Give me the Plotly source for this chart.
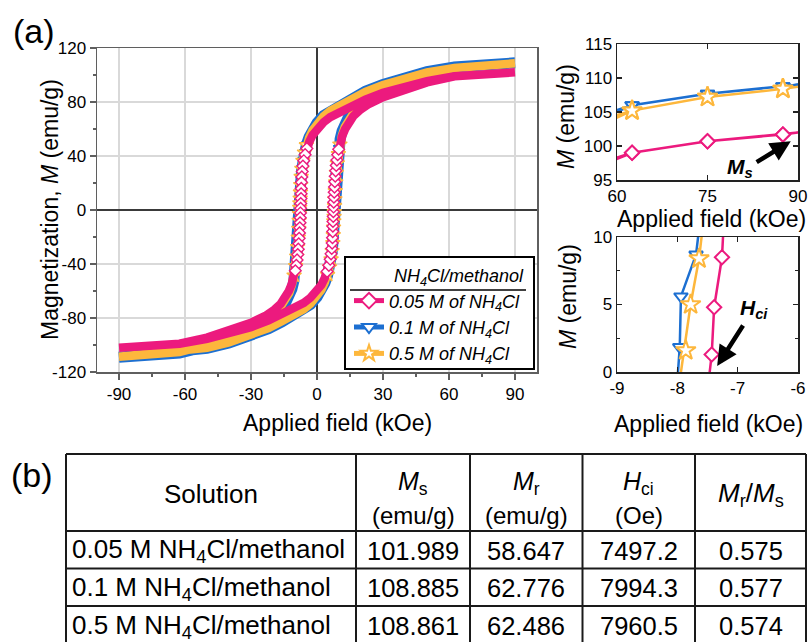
import plotly.graph_objects as go

# ---------------------------------------------------------------- data
# 0.05 M NH4Cl (pink) : descending branch (+90 -> -90 kOe)
pink_desc_H = [90, 87.5, 75, 62.5, 50, 40, 30, 22, 16, 10, 6, 3, 0, -2, -3.5, -4.6, -5.4, -6.0, -6.4, -6.7,
               -6.9, -7.05, -7.15, -7.22, -7.26, -7.39, -7.43, -7.52, -7.6, -7.7, -7.82, -7.95, -8.1, -8.28,
               -8.5, -8.75, -9.05, -9.4, -9.85, -10.5, -11.5, -12.8, -14.5, -16.5, -19.5, -23, -30, -40, -50,
               -62.5, -75, -87.5, -90]
pink_desc_M = [102.0, 101.7, 100.7, 99.0, 95.5, 91.8, 86.8, 81.8, 77.0, 72.5, 68.8, 65.0, 60.0, 55.5, 50.5,
               45.5, 41.0, 36.5, 32.5, 28.5, 24.5, 20.5, 16.0, 12.0, 8.5, 4.8, 1.3, -2.2, -5.8, -9.5, -13.2,
               -17.0, -21.0, -25.0, -29.0, -33.0, -37.0, -41.0, -45.0, -50.0, -55.0, -60.0, -65.0, -69.5,
               -74.0, -78.0, -83.5, -89.5, -94.5, -99.0, -100.7, -101.7, -102.0]
# 0.05 M NH4Cl (pink) : ascending branch (-90 -> +90 kOe)
pink_asc_H = [-90, -87.5, -75, -62.5, -50, -40, -30, -22, -16, -10, -6, -3, 0, 2, 3.5, 4.6, 5.4, 6.0, 6.4, 6.7,
              6.9, 7.05, 7.15, 7.22, 7.26, 7.39, 7.43, 7.52, 7.6, 7.7, 7.82, 7.95, 8.1, 8.28, 8.5, 8.75, 9.05,
              9.4, 9.85, 10.5, 11.5, 12.8, 14.5, 16.5, 19.5, 23, 30, 40, 50, 62.5, 75, 87.5, 90]
pink_asc_M = [-102.0, -101.7, -100.7, -99.0, -95.5, -91.8, -86.8, -81.8, -77.0, -72.5, -68.8, -65.0, -60.0,
              -55.5, -50.5, -45.5, -41.0, -36.5, -32.5, -28.5, -24.5, -20.5, -16.0, -12.0, -8.5, -4.8, -1.3,
              2.2, 5.8, 9.5, 13.2, 17.0, 21.0, 25.0, 29.0, 33.0, 37.0, 41.0, 45.0, 50.0, 55.0, 60.0, 65.0,
              69.5, 74.0, 78.0, 83.5, 89.5, 94.5, 99.0, 100.7, 101.7, 102.0]

# 0.1 M NH4Cl (blue)
blue_desc_H = [90, 87.5, 75, 62.5, 50, 40, 30, 22, 16, 10, 6, 3, 0, -2, -3.6, -4.8, -5.7, -6.4, -6.9, -7.2,
               -7.42, -7.55, -7.69, -7.94, -7.96, -8.06, -8.2, -8.38, -8.6, -8.9, -9.3, -9.8, -10.5, -11.4,
               -12.7, -14.6, -17, -20.5, -25, -30, -40, -50, -62.5, -75, -87.5, -90]
blue_desc_M = [109.0, 108.8, 107.7, 106.0, 102.5, 98.5, 93.0, 88.0, 83.0, 78.0, 74.0, 70.0, 64.5, 59.5, 54.0,
               48.5, 43.0, 37.0, 31.0, 25.0, 19.5, 14.0, 8.7, 5.6, 1.85, -4.5, -11.5, -18.5, -25.5, -32.5,
               -39.5, -46.0, -52.5, -58.5, -64.5, -70.0, -75.0, -79.5, -84.0, -88.5, -95.5, -101.0, -106.0,
               -107.7, -108.8, -109.0]
blue_asc_H = [-90, -87.5, -75, -62.5, -50, -40, -30, -22, -16, -10, -6, -3, 0, 2, 3.6, 4.8, 5.7, 6.4, 6.9, 7.2,
              7.42, 7.55, 7.69, 7.94, 7.96, 8.06, 8.2, 8.38, 8.6, 8.9, 9.3, 9.8, 10.5, 11.4, 12.7, 14.6, 17,
              20.5, 25, 30, 40, 50, 62.5, 75, 87.5, 90]
blue_asc_M = [-109.0, -108.8, -107.7, -106.0, -102.5, -98.5, -93.0, -88.0, -83.0, -78.0, -74.0, -70.0, -64.5,
              -59.5, -54.0, -48.5, -43.0, -37.0, -31.0, -25.0, -19.5, -14.0, -8.7, -5.6, -1.85, 4.5, 11.5,
              18.5, 25.5, 32.5, 39.5, 46.0, 52.5, 58.5, 64.5, 70.0, 75.0, 79.5, 84.0, 88.5, 95.5, 101.0,
              106.0, 107.7, 108.8, 109.0]

# 0.5 M NH4Cl (yellow)
yellow_desc_H = [90, 87.5, 75, 62.5, 50, 40, 30, 22, 16, 10, 6, 3, 0, -2, -3.6, -4.8, -5.7, -6.4, -6.9, -7.2,
                 -7.4, -7.52, -7.64, -7.78, -7.86, -7.98, -8.12, -8.3, -8.52, -8.82, -9.22, -9.72, -10.4,
                 -11.3, -12.6, -14.5, -17, -20.5, -25, -30, -40, -50, -62.5, -75, -87.5, -90]
yellow_desc_M = [108.7, 108.4, 107.2, 105.2, 102.0, 98.0, 92.5, 87.5, 82.5, 77.5, 73.5, 69.5, 64.0, 59.0,
                 53.5, 48.0, 42.5, 36.5, 30.5, 24.5, 18.5, 13.0, 8.4, 5.0, 1.6, -3.0, -8.0, -14.0, -20.5,
                 -27.5, -34.5, -41.5, -48.5, -55.0, -61.5, -67.5, -73.0, -78.0, -82.5, -87.5, -94.5, -100.0,
                 -105.2, -107.2, -108.4, -108.7]
yellow_asc_H = [-90, -87.5, -75, -62.5, -50, -40, -30, -22, -16, -10, -6, -3, 0, 2, 3.6, 4.8, 5.7, 6.4, 6.9,
                7.2, 7.4, 7.52, 7.64, 7.78, 7.86, 7.98, 8.12, 8.3, 8.52, 8.82, 9.22, 9.72, 10.4, 11.3, 12.6,
                14.5, 17, 20.5, 25, 30, 40, 50, 62.5, 75, 87.5, 90]
yellow_asc_M = [-108.7, -108.4, -107.2, -105.2, -102.0, -98.0, -92.5, -87.5, -82.5, -77.5, -73.5, -69.5,
                -64.0, -59.0, -53.5, -48.0, -42.5, -36.5, -30.5, -24.5, -18.5, -13.0, -8.4, -5.0, -1.6, 3.0,
                8.0, 14.0, 20.5, 27.5, 34.5, 41.5, 48.5, 55.0, 61.5, 67.5, 73.0, 78.0, 82.5, 87.5, 94.5,
                100.0, 105.2, 107.2, 108.4, 108.7]

series_names = ["<i>0.05 M of NH<sub>4</sub>Cl</i>", "<i>0.1 M of NH<sub>4</sub>Cl</i>",
                "<i>0.5 M of NH<sub>4</sub>Cl</i>"]

main_x_ticks = [-90, -60, -30, 0, 30, 60, 90]
main_x_labels = ["-90", "-60", "-30", "0", "30", "60", "90"]
main_y_ticks = [-120, -80, -40, 0, 40, 80, 120]
main_y_labels = ["-120", "-80", "-40", "0", "40", "80", "120"]
ms_x_ticks = [60, 75, 90]
ms_x_labels = ["60", "75", "90"]
ms_y_ticks = [95, 100, 105, 110, 115]
ms_y_labels = ["95", "100", "105", "110", "115"]
hc_x_ticks = [-9, -8, -7, -6]
hc_x_labels = ["-9", "-8", "-7", "-6"]
hc_y_ticks = [0, 5, 10]
hc_y_labels = ["0", "5", "10"]

table_header_top = ["Solution", "<i>M</i><sub>s</sub>", "<i>M</i><sub>r</sub>", "<i>H</i><sub>ci</sub>",
                    "<i>M</i><sub>r</sub>/<i>M</i><sub>s</sub>"]
table_header_unit = ["", "(emu/g)", "(emu/g)", "(Oe)", ""]
table_solution = ["0.05 M NH<sub>4</sub>Cl/methanol", "0.1 M NH<sub>4</sub>Cl/methanol",
                  "0.5 M NH<sub>4</sub>Cl/methanol"]
table_Ms = [101.989, 108.885, 108.861]
table_Mr = [58.647, 62.776, 62.486]
table_Hci = [7497.2, 7994.3, 7960.5]
table_ratio = [0.575, 0.577, 0.574]

# ---------------------------------------------------------------- style
W, H = 808, 642
FONT = "Liberation Sans, Arial, sans-serif"
colors = ["#EC1A7E", "#1C6FD1", "#FDB73C"]
symbols = ["diamond", "triangle-down", "star"]
band_w = [8.5, 11, 8.5]
main_msize = [9, 9, 11]
inset_msize = [11, 12, 15]


def px(x):
    return x / W


def py(y):
    return 1 - y / H


series = [
    (pink_desc_H, pink_desc_M, pink_asc_H, pink_asc_M),
    (blue_desc_H, blue_desc_M, blue_asc_H, blue_asc_M),
    (yellow_desc_H, yellow_desc_M, yellow_asc_H, yellow_asc_M),
]

fig = go.Figure()
for i in [1, 2, 0]:  # blue, yellow, pink (pink on top)
    dH, dM, aH, aM = series[i]
    hx = dH + aH
    my = dM + aM
    # main loop: dense-marker band
    fig.add_trace(go.Scatter(x=hx, y=my, mode="lines", xaxis="x", yaxis="y",
                             line=dict(color=colors[i], width=band_w[i]),
                             showlegend=False, hoverinfo="skip"))
    steep = [(h, m) for h, m in zip(hx, my) if abs(m) < 50]
    fig.add_trace(go.Scatter(x=[p[0] for p in steep], y=[p[1] for p in steep], mode="markers",
                             xaxis="x", yaxis="y",
                             marker=dict(symbol=symbols[i], size=main_msize[i], color="white",
                                         line=dict(color=colors[i], width=1.4)),
                             showlegend=False, hoverinfo="skip"))
    # insets
    for xa, ya in [("x2", "y2"), ("x3", "y3")]:
        fig.add_trace(go.Scatter(x=hx, y=my, mode="lines", xaxis=xa, yaxis=ya,
                                 line=dict(color=colors[i], width=2.5),
                                 showlegend=False, hoverinfo="skip"))
        pts = [(h, m) for h, m in zip(hx, my) if abs(h) < 90]
        fig.add_trace(go.Scatter(x=[p[0] for p in pts], y=[p[1] for p in pts], mode="markers",
                                 xaxis=xa, yaxis=ya,
                                 marker=dict(symbol=symbols[i], size=inset_msize[i], color="white",
                                             line=dict(color=colors[i], width=2)),
                                 showlegend=False, hoverinfo="skip"))

# legend entries
for i in range(3):
    fig.add_trace(go.Scatter(x=[None], y=[None], mode="lines+markers", name=series_names[i],
                             xaxis="x", yaxis="y",
                             line=dict(color=colors[i], width=2),
                             marker=dict(symbol=symbols[i], size=inset_msize[i] - 2, color="white",
                                         line=dict(color=colors[i], width=1.5))))

main_axis = dict(showline=True, linecolor="#5f5f5f", linewidth=1.5, mirror=True, ticks="outside",
                 ticklen=6, tickwidth=1.5, tickcolor="#5f5f5f", showgrid=True, gridcolor="#d9d9d9",
                 gridwidth=1.3, zeroline=True, zerolinecolor="#3a3a3a", zerolinewidth=1.5,
                 tickfont=dict(size=17, family=FONT, color="black"), tickmode="array", automargin=False)
inset_axis = dict(showline=True, linecolor="#222222", linewidth=1.5, mirror="allticks", ticks="inside",
                  ticklen=5, tickwidth=1.3, tickcolor="#222222", showgrid=False, zeroline=False,
                  tickfont=dict(size=17, family=FONT, color="black"), tickmode="array", automargin=False)

fig.update_layout(
    template="none",
    width=W, height=H, autosize=False, margin=dict(l=0, r=0, t=0, b=0, pad=0),
    paper_bgcolor="white", plot_bgcolor="white",
    font=dict(family=FONT, size=17, color="black"),
    hovermode=False,
    showlegend=True,
    legend=dict(x=px(349), y=py(259), xanchor="left", yanchor="top", bgcolor="rgba(0,0,0,0)",
                borderwidth=0, font=dict(family=FONT, size=18, color="black"),
                title=dict(text="<i>NH<sub>4</sub>Cl/methanol</i>", side="top right",
                           font=dict(family=FONT, size=18, color="black")),
                itemsizing="constant", tracegroupgap=0),
    xaxis=dict(main_axis, domain=[px(97), px(537)], range=[-100, 100], anchor="y",
               tickvals=main_x_ticks, ticktext=main_x_labels,
               minor=dict(tickmode="linear", tick0=0, dtick=15, ticks="outside", ticklen=3,
                          tickcolor="#5f5f5f", showgrid=False)),
    yaxis=dict(main_axis, domain=[py(372), py(48)], range=[-120, 120], anchor="x",
               tickvals=main_y_ticks, ticktext=main_y_labels,
               minor=dict(tickmode="linear", tick0=0, dtick=20, ticks="outside", ticklen=3,
                          tickcolor="#5f5f5f", showgrid=False)),
    xaxis2=dict(inset_axis, domain=[px(617), px(798)], range=[60, 90], anchor="y2",
                tickvals=ms_x_ticks, ticktext=ms_x_labels),
    yaxis2=dict(inset_axis, domain=[py(180), py(44)], range=[95, 115], anchor="x2",
                tickvals=ms_y_ticks, ticktext=ms_y_labels),
    xaxis3=dict(inset_axis, domain=[px(617), px(798)], range=[-9, -6], anchor="y3",
                tickvals=hc_x_ticks, ticktext=hc_x_labels),
    yaxis3=dict(inset_axis, domain=[py(372), py(237)], range=[0, 10], anchor="x3",
                tickvals=hc_y_ticks, ticktext=hc_y_labels,
                minor=dict(tickmode="linear", tick0=0, dtick=2.5, ticks="inside", ticklen=3,
                           tickcolor="#222222")),
)

shapes = []
# legend box + separator
shapes.append(dict(type="rect", xref="paper", yref="paper", x0=px(345), x1=px(534), y0=py(369), y1=py(257),
                   fillcolor="white", line=dict(color="black", width=2), layer="above"))
shapes.append(dict(type="line", xref="paper", yref="paper", x0=px(350), x1=px(526), y0=py(290), y1=py(290),
                   line=dict(color="black", width=1.5), layer="above"))

# table grid
col_edges = [66, 356, 470, 582.5, 695, 806]
row_edges = [454, 531, 568.5, 606, 644]
for cx in col_edges:
    shapes.append(dict(type="line", xref="paper", yref="paper", x0=px(cx), x1=px(cx),
                       y0=py(row_edges[0]), y1=py(row_edges[-1]), line=dict(color="#1a1a1a", width=2)))
for ry in row_edges:
    shapes.append(dict(type="line", xref="paper", yref="paper", x0=px(col_edges[0]), x1=px(col_edges[-1]),
                       y0=py(ry), y1=py(ry), line=dict(color="#1a1a1a", width=2)))
fig.update_layout(shapes=shapes)

ann = []


def text(t, x, y, size, angle=0, xanchor="center"):
    ann.append(dict(text=t, x=px(x), y=py(y), xref="paper", yref="paper", showarrow=False,
                    font=dict(family=FONT, size=size, color="black"), textangle=angle,
                    xanchor=xanchor, yanchor="middle"))


text("(a)", 34, 31, 34)
text("(b)", 32, 475, 34)
text("Applied field (kOe)", 337, 423, 23)
text("Magnetization, <i>M</i> (emu/g)", 50, 210, 23, angle=-90)
text("Applied field (kOe)", 711, 219, 23)
text("<i>M</i> (emu/g)", 566, 117, 23, angle=-90)
text("Applied field (kOe)", 708, 424, 23)
text("<i>M</i> (emu/g)", 568, 297, 23, angle=-90)
text("<b><i>M<sub>s</sub></i></b>", 740, 168, 21)
text("<b><i>H<sub>ci</sub></i></b>", 754, 309, 21)

# arrows
ann.append(dict(text="", x=88.8, y=100.7, xref="x2", yref="y2", ax=82.9, ay=97.5, axref="x2", ayref="y2",
                showarrow=True, arrowhead=2, arrowsize=0.9, arrowwidth=4.5, arrowcolor="black"))
ann.append(dict(text="", x=-7.34, y=0.45, xref="x3", yref="y3", ax=-6.895, ay=3.55, axref="x3", ayref="y3",
                showarrow=True, arrowhead=2, arrowsize=0.9, arrowwidth=4.5, arrowcolor="black"))

# table text
for j in range(5):
    cx = (col_edges[j] + col_edges[j + 1]) / 2
    if table_header_unit[j]:
        text(table_header_top[j], cx, 483, 25)
        text(table_header_unit[j], cx, 515, 24)
    else:
        text(table_header_top[j], cx, 494, 26)
fmt_cols = [(table_Ms, "{:.3f}"), (table_Mr, "{:.3f}"), (table_Hci, "{:.1f}"), (table_ratio, "{:.3f}")]
for r in range(3):
    cy = (row_edges[r + 1] + row_edges[r + 2]) / 2 + 1
    text(table_solution[r], 70, cy, 26, xanchor="left")
    for j, (vals, f) in enumerate(fmt_cols):
        cx = (col_edges[j + 1] + col_edges[j + 2]) / 2
        text(f.format(vals[r]), cx, cy, 25.5)

fig.update_layout(annotations=ann)

fig.write_html("out.html", config={"displayModeBar": False, "staticPlot": True},
               post_script="document.body.style.margin='0px';document.body.style.overflow='hidden';")
